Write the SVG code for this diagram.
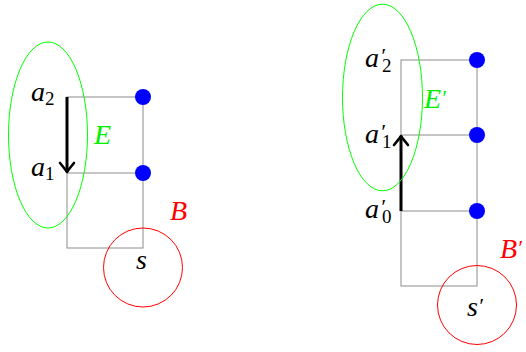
<svg xmlns="http://www.w3.org/2000/svg" width="526" height="352" viewBox="0 0 526 352">
<defs>
<style>
.grid{fill:none;stroke:#8c8c8c;stroke-width:1}
.dot{fill:#0000ff}
.ell{fill:none;stroke:#00ff00;stroke-width:1}
.circ{fill:none;stroke:#ff0000;stroke-width:1}
.arr{fill:none;stroke:#000;stroke-width:3}
text{font-family:"Liberation Serif","DejaVu Serif",serif;font-style:italic;font-size:28px;fill:#000}
.sub{font-style:normal;font-size:19px}
.pr{font-size:22px}
.g{fill:#00f000}
.r{fill:#ff0000}
</style>
<marker id="ah" markerUnits="userSpaceOnUse" markerWidth="24" markerHeight="24" viewBox="-12 -12 24 24" refX="0" refY="0" orient="auto" overflow="visible">
<path d="M-9,-7 Q-3,-2 0,0 Q-3,2 -9,7" fill="none" stroke="#000" stroke-width="2.6" stroke-linecap="round" stroke-linejoin="round"/>
</marker>
</defs>

<g id="left-grid">
<rect class="grid" x="67" y="97" width="76" height="151"/>
<line class="grid" x1="67" y1="173" x2="143" y2="173"/>
</g>
<g id="right-grid">
<rect class="grid" x="401" y="60" width="76" height="226"/>
<line class="grid" x1="401" y1="135" x2="477" y2="135"/>
<line class="grid" x1="401" y1="211" x2="477" y2="211"/>
</g>

<g id="connectors">
<line class="arr" x1="67" y1="97" x2="67" y2="172" marker-end="url(#ah)"/>
<line class="arr" x1="401" y1="211" x2="401" y2="136" marker-end="url(#ah)"/>
</g>

<g id="E">
<ellipse class="ell" cx="48" cy="135" rx="39.5" ry="93"/>
<text class="g" x="94" y="144">E</text>
</g>
<g id="B">
<circle class="circ" cx="143" cy="267.5" r="39.5"/>
<text class="r" x="170" y="220">B</text>
</g>
<g id="a2"><text x="31" y="101">a<tspan class="sub" dy="4">2</tspan></text></g>
<g id="a1"><text x="31" y="176">a<tspan class="sub" dy="4">1</tspan></text></g>
<g id="dot-a2"><circle class="dot" cx="143" cy="97" r="8"/></g>
<g id="dot-a1"><circle class="dot" cx="143" cy="173" r="8"/></g>
<g id="s"><text x="136" y="269">s</text></g>

<g id="E-prime">
<ellipse class="ell" cx="382.5" cy="97.5" rx="40" ry="93.3"/>
<text class="g" x="424" y="108">E<tspan class="pr" dy="-3">′</tspan></text>
</g>
<g id="B-prime">
<circle class="circ" cx="477" cy="305" r="39.5"/>
<text class="r" x="500" y="258">B<tspan class="pr" dy="-3">′</tspan></text>
</g>
<g id="a2-prime"><text x="365" y="67">a<tspan class="pr" x="380" dy="-4">′</tspan><tspan class="sub" x="382" dy="9">2</tspan></text></g>
<g id="a1-prime"><text x="365" y="143">a<tspan class="pr" x="380" dy="-4">′</tspan><tspan class="sub" x="382" dy="9">1</tspan></text></g>
<g id="a0-prime"><text x="365" y="218">a<tspan class="pr" x="380" dy="-4">′</tspan><tspan class="sub" x="382" dy="9">0</tspan></text></g>
<g id="dot-a2p"><circle class="dot" cx="477" cy="60" r="8"/></g>
<g id="dot-a1p"><circle class="dot" cx="477" cy="135" r="8"/></g>
<g id="dot-a0p"><circle class="dot" cx="477" cy="211" r="8"/></g>
<g id="s-prime"><text x="467" y="316">s<tspan class="pr" dy="-3">′</tspan></text></g>
</svg>
